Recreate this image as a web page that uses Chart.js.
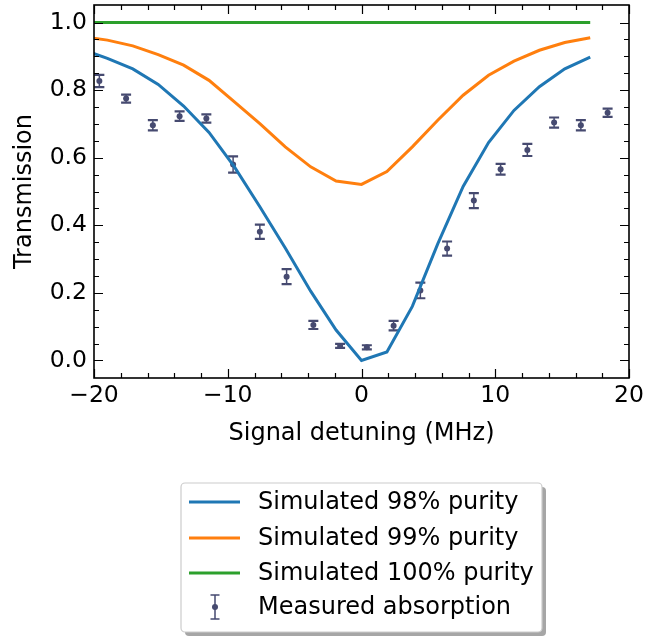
<!DOCTYPE html>
<html>
<head>
<meta charset="utf-8">
<script src="https://cdn.jsdelivr.net/npm/chart.js@4.4.1/dist/chart.umd.min.js"></script>
<style>
  html, body { margin: 0; padding: 0; background: #fff; }
  #chart { display: block; }
</style>
</head>
<body>
<canvas id="chart" width="647" height="636"></canvas>
<script>
// simulated transmission, detuning grid in MHz
const simDetuning = [-20.9, -19, -17.1, -15.2, -13.3, -11.4, -9.5, -7.6, -5.7, -3.8, -1.9, 0, 1.9, 3.8, 5.7, 7.6, 9.5, 11.4, 13.3, 15.2, 17.1];
const sim98 = [0.921, 0.894, 0.863, 0.817, 0.753, 0.675, 0.573, 0.455, 0.333, 0.205, 0.090, 0.0, 0.025, 0.160, 0.345, 0.515, 0.645, 0.740, 0.810, 0.863, 0.898];
const sim99 = [0.958, 0.948, 0.931, 0.905, 0.874, 0.829, 0.765, 0.701, 0.632, 0.573, 0.531, 0.521, 0.559, 0.632, 0.711, 0.785, 0.844, 0.886, 0.918, 0.941, 0.955];
const sim100 = [1, 1, 1, 1, 1, 1, 1, 1, 1, 1, 1, 1, 1, 1, 1, 1, 1, 1, 1, 1, 1];

// measured absorption
const measDetuning = [-19.6, -17.6, -15.6, -13.6, -11.6, -9.6, -7.6, -5.6, -3.6, -1.6, 0.4, 2.4, 4.4, 6.4, 8.4, 10.4, 12.4, 14.4, 16.4, 18.4];
const measTransmission = [0.827, 0.775, 0.696, 0.723, 0.716, 0.580, 0.381, 0.248, 0.105, 0.043, 0.039, 0.103, 0.207, 0.331, 0.473, 0.566, 0.623, 0.704, 0.696, 0.733];
const measError = [0.018, 0.012, 0.015, 0.014, 0.012, 0.024, 0.021, 0.022, 0.012, 0.006, 0.006, 0.014, 0.023, 0.021, 0.022, 0.016, 0.018, 0.015, 0.015, 0.012];

const seriesLabels = ['Simulated 98% purity', 'Simulated 99% purity', 'Simulated 100% purity', 'Measured absorption'];
const xTickValues = [-20, -10, 0, 10, 20];
const yTickValues = [0, 0.2, 0.4, 0.6, 0.8, 1.0];

const FONT = 'DejaVu Sans';
const pointColor = '#464a70';
const colors = ['#1f77b4', '#ff7f0e', '#2ca02c'];

const toPoints = (xs, ys) => xs.map((x, i) => ({ x: x, y: ys[i] }));

// error bars drawn under the measured markers
const errorBars = {
  id: 'errorBars',
  beforeDatasetDraw(chart, args) {
    if (args.index !== 3) return;
    const { ctx, scales: { x, y } } = chart;
    ctx.save();
    ctx.strokeStyle = pointColor;
    measDetuning.forEach((d, i) => {
      const px = x.getPixelForValue(d);
      const top = y.getPixelForValue(measTransmission[i] + measError[i]);
      const bot = y.getPixelForValue(measTransmission[i] - measError[i]);
      ctx.lineWidth = 1.5;
      ctx.beginPath();
      ctx.moveTo(px, top); ctx.lineTo(px, bot);
      ctx.stroke();
      ctx.lineWidth = 2.2;
      ctx.beginPath();
      ctx.moveTo(px - 5, top); ctx.lineTo(px + 5, top);
      ctx.moveTo(px - 5, bot); ctx.lineTo(px + 5, bot);
      ctx.stroke();
    });
    ctx.restore();
  }
};

// matplotlib style frame with inward ticks on all sides
const frame = {
  id: 'frame',
  afterDraw(chart) {
    const { ctx, chartArea: a, scales: { x, y } } = chart;
    ctx.save();
    ctx.strokeStyle = '#000';
    ctx.lineWidth = 1.2;
    const tick = (px, len, horiz) => {
      ctx.beginPath();
      if (horiz) {
        ctx.moveTo(px, a.bottom); ctx.lineTo(px, a.bottom - len);
        ctx.moveTo(px, a.top); ctx.lineTo(px, a.top + len);
      } else {
        ctx.moveTo(a.left, px); ctx.lineTo(a.left + len, px);
        ctx.moveTo(a.right, px); ctx.lineTo(a.right - len, px);
      }
      ctx.stroke();
    };
    for (let v = -20; v <= 20; v += 2) {
      tick(Math.round(x.getPixelForValue(v)) + 0.5, v % 10 === 0 ? 9 : 5, true);
    }
    for (let k = 0; k <= 20; k++) {
      tick(Math.round(y.getPixelForValue(k * 0.05)) + 0.5, k % 4 === 0 ? 9 : 5, false);
    }
    ctx.lineWidth = 1.6;
    ctx.strokeRect(a.left, a.top, a.right - a.left, a.bottom - a.top);
    ctx.restore();
  }
};

// legend box below the axes
const legendBox = {
  id: 'legendBox',
  afterDraw(chart) {
    const { ctx } = chart;
    const bx = 181, by = 483, bw = 361, bh = 149;
    ctx.save();
    ctx.fillStyle = '#a6a6a6';
    ctx.beginPath(); ctx.roundRect(bx + 4, by + 4, bw, bh, 4); ctx.fill();
    ctx.fillStyle = '#fff';
    ctx.strokeStyle = '#cccccc';
    ctx.lineWidth = 1.2;
    ctx.beginPath(); ctx.roundRect(bx, by, bw, bh, 4); ctx.fill(); ctx.stroke();

    ctx.font = '24px "' + FONT + '"';
    ctx.textBaseline = 'middle';
    ctx.fillStyle = '#000';
    const rows = [502, 538, 573, 607];
    chart.data.datasets.forEach((ds, i) => {
      const cy = rows[i];
      if (i < 3) {
        ctx.strokeStyle = ds.borderColor;
        ctx.lineWidth = 3;
        ctx.beginPath(); ctx.moveTo(189, cy); ctx.lineTo(240, cy); ctx.stroke();
      } else {
        ctx.strokeStyle = pointColor;
        ctx.lineWidth = 1.5;
        ctx.beginPath();
        ctx.moveTo(215, cy - 12); ctx.lineTo(215, cy + 12);
        ctx.moveTo(210.5, cy - 12); ctx.lineTo(219.5, cy - 12);
        ctx.moveTo(210.5, cy + 12); ctx.lineTo(219.5, cy + 12);
        ctx.stroke();
        ctx.fillStyle = pointColor;
        ctx.beginPath(); ctx.arc(215, cy, 3, 0, Math.PI * 2); ctx.fill();
        ctx.fillStyle = '#000';
      }
      ctx.fillText(ds.label, 258, cy + 1);
    });
    ctx.restore();
  }
};

const lineDs = (i, ys) => ({
  label: seriesLabels[i],
  data: toPoints(simDetuning, ys),
  showLine: true,
  borderColor: colors[i],
  backgroundColor: colors[i],
  borderWidth: 3,
  pointRadius: 0,
  tension: 0,
  clip: 0
});

new Chart(document.getElementById('chart'), {
  type: 'scatter',
  data: {
    datasets: [
      lineDs(0, sim98),
      lineDs(1, sim99),
      lineDs(2, sim100),
      {
        label: seriesLabels[3],
        data: toPoints(measDetuning, measTransmission),
        backgroundColor: pointColor,
        borderColor: pointColor,
        pointRadius: 3,
        pointBorderWidth: 0,
        showLine: false
      }
    ]
  },
  options: {
    responsive: false,
    animation: false,
    devicePixelRatio: 1,
    layout: { padding: { left: 0, right: 18, top: 5, bottom: 178 } },
    plugins: { legend: { display: false }, tooltip: { enabled: false } },
    scales: {
      x: {
        type: 'linear',
        min: -20,
        max: 20,
        grid: { display: false, drawTicks: false },
        border: { display: false },
        afterBuildTicks: s => { s.ticks = xTickValues.map(v => ({ value: v })); },
        afterFit: s => { s.height = 80; s.paddingLeft = 0; s.paddingRight = 0; },
        ticks: {
          padding: 4,
          color: '#000',
          font: { family: FONT, size: 23.5 },
          callback: v => (v < 0 ? '\u2212' + Math.abs(v) : String(v))
        },
        title: {
          display: true,
          text: 'Signal detuning (MHz)',
          color: '#000',
          font: { family: FONT, size: 24 },
          padding: { top: 0, bottom: 10 }
        }
      },
      y: {
        type: 'linear',
        min: -0.052,
        max: 1.052,
        grid: { display: false, drawTicks: false },
        border: { display: false },
        afterBuildTicks: s => { s.ticks = yTickValues.map(v => ({ value: v })); },
        afterFit: s => { s.width = 94; s.paddingTop = 0; s.paddingBottom = 0; },
        ticks: {
          padding: 7,
          color: '#000',
          font: { family: FONT, size: 23.5 },
          callback: v => v.toFixed(1)
        },
        title: {
          display: true,
          text: 'Transmission',
          color: '#000',
          font: { family: FONT, size: 24 },
          padding: { top: 10, bottom: 0 }
        }
      }
    }
  },
  plugins: [errorBars, frame, legendBox]
});
</script>
</body>
</html>
